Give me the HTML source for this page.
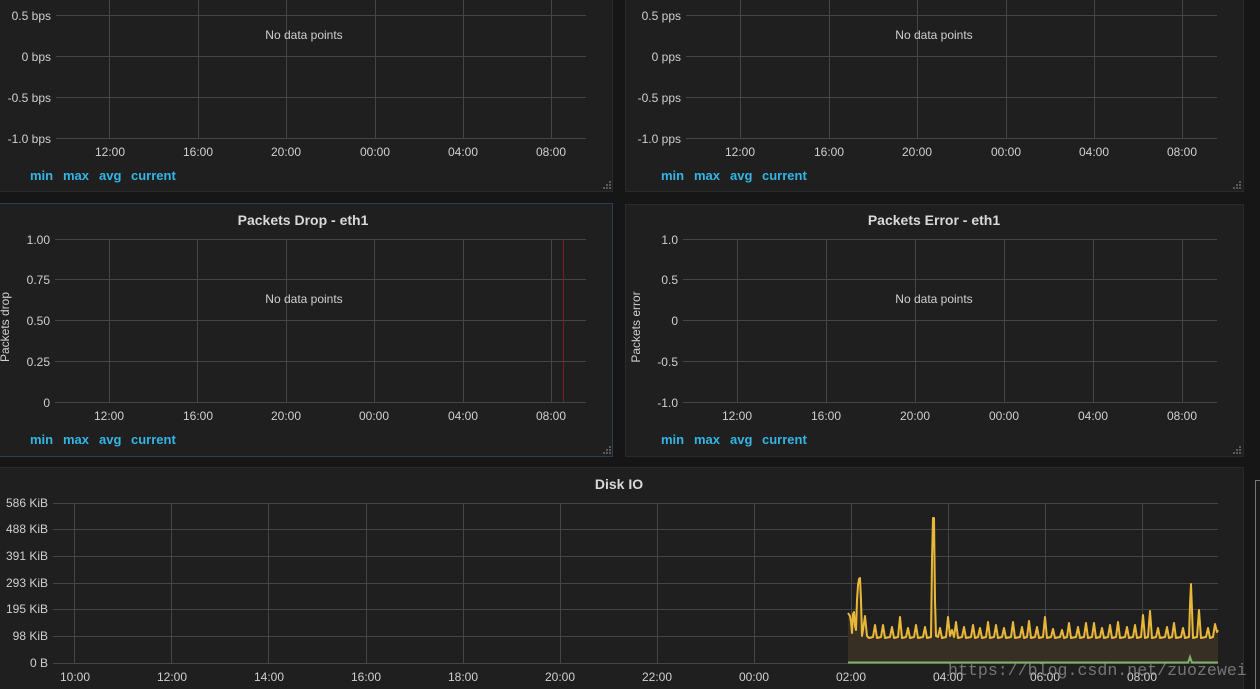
<!DOCTYPE html>
<html><head><meta charset="utf-8"><style>
html,body{margin:0;padding:0;background:#161616;width:1260px;height:689px;overflow:hidden}
svg{display:block}
text{font-family:"Liberation Sans",sans-serif}
.t{fill:#cfd0d1;font-size:12px}
.ti{fill:#d8d9da;font-size:14px;font-weight:bold}
.lg{fill:#33b5e5;font-size:13px;font-weight:bold}
.g{stroke:#454545;stroke-width:1;fill:none}
</style></head><body>
<svg width="1260" height="689" viewBox="0 0 1260 689" xmlns="http://www.w3.org/2000/svg">
<rect width="1260" height="689" fill="#161616"/>
<!-- panels -->
<rect x="-1.5" y="-10.5" width="614" height="202" fill="#1f1f20" stroke="#2a2a2b"/>
<rect x="625.5" y="-10.5" width="618" height="202" fill="#1f1f20" stroke="#2a2a2b"/>
<rect x="-1.5" y="203.5" width="614" height="253" fill="#1f1f20" stroke="#2b3f4e"/>
<rect x="625.5" y="204.5" width="618" height="252" fill="#1f1f20" stroke="#2a2a2b"/>
<rect x="-1.5" y="467.5" width="1245" height="230" fill="#1f1f20" stroke="#2a2a2b"/>
<rect x="1255.5" y="480.5" width="10" height="220" fill="#1a1a1a" stroke="#777"/>

<!-- TOP LEFT -->
<g class="g">
<path d="M56 15.5H586M56 56.5H586M56 97.5H586M56 138.5H586"/>
<path d="M109.5 0V138M198.5 0V138M286.5 0V138M375.5 0V138M463.5 0V138M551.5 0V138"/>
</g>
<g class="t" text-anchor="end">
<text x="51" y="20">0.5 bps</text><text x="51" y="61">0 bps</text><text x="51" y="102">-0.5 bps</text><text x="51" y="143">-1.0 bps</text>
</g>
<g class="t" text-anchor="middle">
<text x="110" y="156">12:00</text><text x="198" y="156">16:00</text><text x="286" y="156">20:00</text><text x="375" y="156">00:00</text><text x="463" y="156">04:00</text><text x="551" y="156">08:00</text>
<text x="304" y="39">No data points</text>
</g>
<g class="lg"><text x="30" y="180">min</text><text x="63" y="180">max</text><text x="99" y="180">avg</text><text x="131" y="180">current</text></g>

<!-- TOP RIGHT -->
<g class="g">
<path d="M686 15.5H1217M686 56.5H1217M686 97.5H1217M686 138.5H1217"/>
<path d="M740.5 0V138M829.5 0V138M917.5 0V138M1006.5 0V138M1094.5 0V138M1182.5 0V138"/>
</g>
<g class="t" text-anchor="end">
<text x="681" y="20">0.5 pps</text><text x="681" y="61">0 pps</text><text x="681" y="102">-0.5 pps</text><text x="681" y="143">-1.0 pps</text>
</g>
<g class="t" text-anchor="middle">
<text x="740" y="156">12:00</text><text x="829" y="156">16:00</text><text x="917" y="156">20:00</text><text x="1006" y="156">00:00</text><text x="1094" y="156">04:00</text><text x="1182" y="156">08:00</text>
<text x="934" y="39">No data points</text>
</g>
<g class="lg"><text x="661" y="180">min</text><text x="694" y="180">max</text><text x="730" y="180">avg</text><text x="762" y="180">current</text></g>

<!-- MIDDLE LEFT -->
<text class="ti" x="303" y="225" text-anchor="middle">Packets Drop - eth1</text>
<g class="g">
<path d="M55 239.5H586M55 279.5H586M55 320.5H586M55 361.5H586M55 402.5H586"/>
<path d="M109.5 239V402M197.5 239V402M286.5 239V402M374.5 239V402M463.5 239V402M551.5 239V402"/>
</g>
<path d="M563.5 239V402" stroke="#6e2424" stroke-width="1"/>
<g class="t" text-anchor="end">
<text x="50" y="244">1.00</text><text x="50" y="284">0.75</text><text x="50" y="325">0.50</text><text x="50" y="366">0.25</text><text x="50" y="407">0</text>
</g>
<text class="t" transform="translate(9,327) rotate(-90)" text-anchor="middle">Packets drop</text>
<g class="t" text-anchor="middle">
<text x="109" y="420">12:00</text><text x="198" y="420">16:00</text><text x="286" y="420">20:00</text><text x="374" y="420">00:00</text><text x="463" y="420">04:00</text><text x="551" y="420">08:00</text>
<text x="304" y="303">No data points</text>
</g>
<g class="lg"><text x="30" y="444">min</text><text x="63" y="444">max</text><text x="99" y="444">avg</text><text x="131" y="444">current</text></g>

<!-- MIDDLE RIGHT -->
<text class="ti" x="934" y="225" text-anchor="middle">Packets Error - eth1</text>
<g class="g">
<path d="M683 239.5H1217M683 279.5H1217M683 320.5H1217M683 361.5H1217M683 402.5H1217"/>
<path d="M737.5 239V402M826.5 239V402M915.5 239V402M1004.5 239V402M1093.5 239V402M1182.5 239V402"/>
</g>
<g class="t" text-anchor="end">
<text x="678" y="244">1.0</text><text x="678" y="284">0.5</text><text x="678" y="325">0</text><text x="678" y="366">-0.5</text><text x="678" y="407">-1.0</text>
</g>
<text class="t" transform="translate(640,327) rotate(-90)" text-anchor="middle">Packets error</text>
<g class="t" text-anchor="middle">
<text x="737" y="420">12:00</text><text x="826" y="420">16:00</text><text x="915" y="420">20:00</text><text x="1004" y="420">00:00</text><text x="1093" y="420">04:00</text><text x="1182" y="420">08:00</text>
<text x="934" y="303">No data points</text>
</g>
<g class="lg"><text x="661" y="444">min</text><text x="694" y="444">max</text><text x="730" y="444">avg</text><text x="762" y="444">current</text></g>

<!-- resize handles -->
<g fill="#5a5a5a">
<rect x="609" y="181" width="2" height="2"/><rect x="606" y="184" width="2" height="2"/><rect x="609" y="184" width="2" height="2"/><rect x="603" y="187" width="2" height="2"/><rect x="606" y="187" width="2" height="2"/><rect x="609" y="187" width="2" height="2"/>
<rect x="1239" y="181" width="2" height="2"/><rect x="1236" y="184" width="2" height="2"/><rect x="1239" y="184" width="2" height="2"/><rect x="1233" y="187" width="2" height="2"/><rect x="1236" y="187" width="2" height="2"/><rect x="1239" y="187" width="2" height="2"/>
<rect x="609" y="446" width="2" height="2"/><rect x="606" y="449" width="2" height="2"/><rect x="609" y="449" width="2" height="2"/><rect x="603" y="452" width="2" height="2"/><rect x="606" y="452" width="2" height="2"/><rect x="609" y="452" width="2" height="2"/>
<rect x="1239" y="446" width="2" height="2"/><rect x="1236" y="449" width="2" height="2"/><rect x="1239" y="449" width="2" height="2"/><rect x="1233" y="452" width="2" height="2"/><rect x="1236" y="452" width="2" height="2"/><rect x="1239" y="452" width="2" height="2"/>
</g>

<!-- DISK IO -->
<text class="ti" x="619" y="489" text-anchor="middle">Disk IO</text>
<g class="g">
<path d="M53 503.5H1218M53 529.5H1218M53 556.5H1218M53 583.5H1218M53 609.5H1218M53 636.5H1218M53 663.5H1218"/>
<path d="M74.5 503V663M171.5 503V663M268.5 503V663M366.5 503V663M463.5 503V663M560.5 503V663M657.5 503V663M754.5 503V663M851.5 503V663M948.5 503V663M1045.5 503V663M1142.5 503V663"/>
</g>
<g class="t" text-anchor="end">
<text x="48" y="507">586 KiB</text><text x="48" y="533">488 KiB</text><text x="48" y="560">391 KiB</text><text x="48" y="587">293 KiB</text><text x="48" y="613">195 KiB</text><text x="48" y="640">98 KiB</text><text x="48" y="667">0 B</text>
</g>
<g class="t" text-anchor="middle">
<text x="75" y="681">10:00</text><text x="172" y="681">12:00</text><text x="269" y="681">14:00</text><text x="366" y="681">16:00</text><text x="463" y="681">18:00</text><text x="560" y="681">20:00</text><text x="657" y="681">22:00</text><text x="754" y="681">00:00</text><text x="851" y="681">02:00</text><text x="948" y="681">04:00</text><text x="1045" y="681">06:00</text><text x="1142" y="681">08:00</text>
</g>
<polygon fill="#372f24" points="848,663 848,613 850,616 851,622 852,633 853,614 854,612 855,626 856,630 857,600 858,585 859,579 860,578 861,600 862,636 863,630 865,616 867,636 869,638 873,637 875,625 877,638 881,637 883,625 885,638 890,637 892,627 894,638 898,637 900,617 902,638 906,637 908,628 910,638 914,637 916,625 918,638 923,637 925,627 927,638 931,637 932,560 933,518 934,518 935,600 936,636 938,637 940,628 942,638 946,637 948,617 950,636 952,630 954,637 956,622 958,638 962,637 964,627 966,638 971,637 973,625 975,638 978,637 980,628 982,638 986,637 988,622 990,638 994,637 996,625 998,638 1002,637 1004,628 1006,638 1011,637 1013,622 1015,638 1020,637 1022,627 1024,638 1027,637 1029,621 1031,638 1035,637 1037,627 1039,638 1043,637 1045,617 1047,638 1051,637 1053,629 1055,638 1060,637 1062,630 1064,638 1067,637 1069,623 1071,638 1076,637 1078,627 1080,638 1084,637 1086,623 1088,638 1092,637 1094,623 1096,638 1100,637 1102,628 1104,638 1108,637 1110,625 1112,638 1116,637 1118,622 1120,638 1125,637 1127,627 1129,638 1133,637 1135,625 1137,638 1141,637 1143,615 1145,638 1148,637 1150,611 1152,638 1156,637 1158,628 1160,638 1165,637 1167,627 1169,638 1172,637 1174,623 1176,638 1181,637 1183,628 1185,638 1189,637 1190,605 1191,584 1192,610 1193,638 1197,637 1199,610 1201,638 1206,637 1208,628 1210,638 1213,637 1215,624 1217,632 1218,630 1218,663"/>
<polyline fill="none" stroke="#eab839" stroke-width="2" stroke-linejoin="round" points="848,613 850,616 851,622 852,633 853,614 854,612 855,626 856,630 857,600 858,585 859,579 860,578 861,600 862,636 863,630 865,616 867,636 869,638 873,637 875,625 877,638 881,637 883,625 885,638 890,637 892,627 894,638 898,637 900,617 902,638 906,637 908,628 910,638 914,637 916,625 918,638 923,637 925,627 927,638 931,637 932,560 933,518 934,518 935,600 936,636 938,637 940,628 942,638 946,637 948,617 950,636 952,630 954,637 956,622 958,638 962,637 964,627 966,638 971,637 973,625 975,638 978,637 980,628 982,638 986,637 988,622 990,638 994,637 996,625 998,638 1002,637 1004,628 1006,638 1011,637 1013,622 1015,638 1020,637 1022,627 1024,638 1027,637 1029,621 1031,638 1035,637 1037,627 1039,638 1043,637 1045,617 1047,638 1051,637 1053,629 1055,638 1060,637 1062,630 1064,638 1067,637 1069,623 1071,638 1076,637 1078,627 1080,638 1084,637 1086,623 1088,638 1092,637 1094,623 1096,638 1100,637 1102,628 1104,638 1108,637 1110,625 1112,638 1116,637 1118,622 1120,638 1125,637 1127,627 1129,638 1133,637 1135,625 1137,638 1141,637 1143,615 1145,638 1148,637 1150,611 1152,638 1156,637 1158,628 1160,638 1165,637 1167,627 1169,638 1172,637 1174,623 1176,638 1181,637 1183,628 1185,638 1189,637 1190,605 1191,584 1192,610 1193,638 1197,637 1199,610 1201,638 1206,637 1208,628 1210,638 1213,637 1215,624 1217,632 1218,630"/>
<polyline fill="none" stroke="#7eb26d" stroke-width="2" points="848,662.5 1188,662.5 1189,660 1190,657 1191,660 1192,662.5 1218,662.5"/>

<text x="948" y="675" fill="#9a9a9a" fill-opacity="0.7" font-family="Liberation Mono, monospace" font-size="16.6" style="font-family:'Liberation Mono',monospace">https://blog.csdn.net/zuozewei</text>
</svg>
</body></html>
